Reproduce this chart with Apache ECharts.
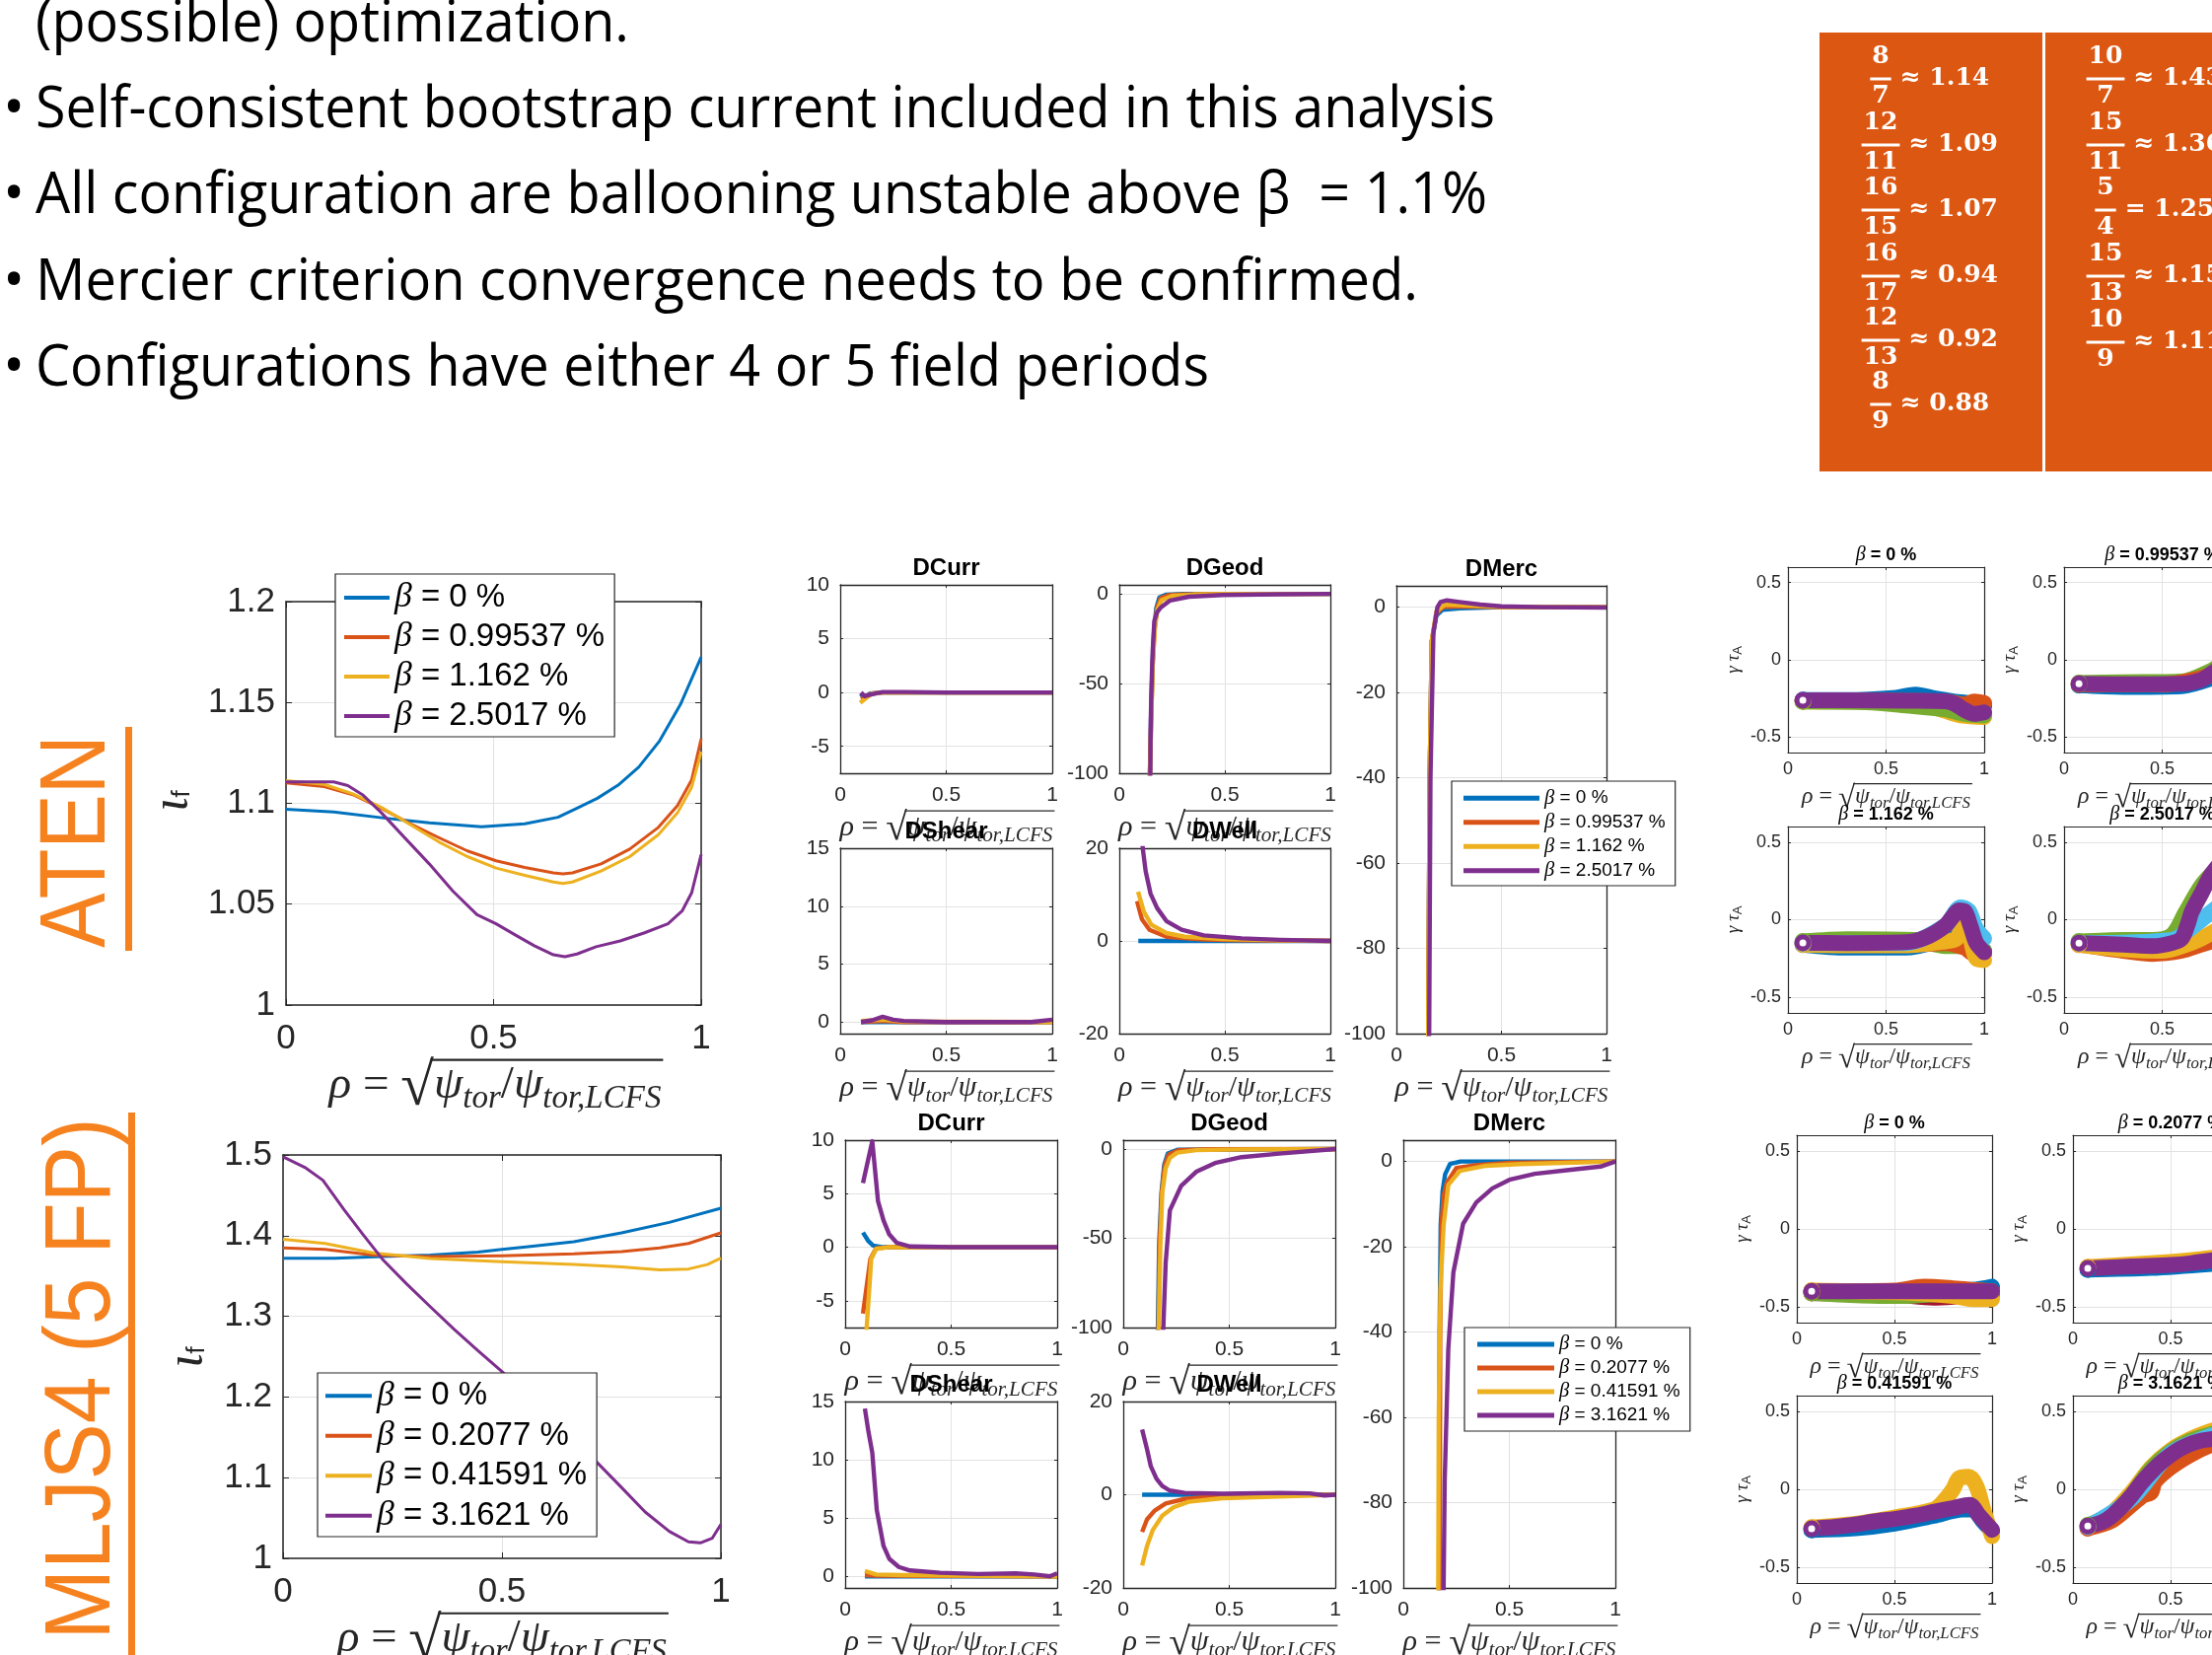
<!DOCTYPE html>
<html>
<head>
<meta charset="utf-8">
<title>ATEN / MLJS4 stability overview</title>
<script src="https://cdn.jsdelivr.net/npm/echarts@6.0.0/dist/echarts.min.js"></script>
<style>
html,body{margin:0;padding:0;background:#ffffff;overflow:hidden;}
#chart{width:2243px;height:1678px;}
</style>
</head>
<body>
<div id="chart"></div>
<script>
// ======================= DATA =======================
const slideLines = [
  '(possible) optimization.',
  'Self-consistent bootstrap current included in this analysis',
  'All configuration are ballooning unstable above β  = 1.1%',
  'Mercier criterion convergence needs to be confirmed.',
  'Configurations have either 4 or 5 field periods'
];
const slideBullet = [false, true, true, true, true];

const fracNumA = ['8', '12', '16', '16', '12', '8'];
const fracDenA = ['7', '11', '15', '17', '13', '9'];
const fracValA = ['≈ 1.14', '≈ 1.09', '≈ 1.07', '≈ 0.94', '≈ 0.92', '≈ 0.88'];
const fracNumB = ['10', '15', '5', '15', '10'];
const fracDenB = ['7', '11', '4', '13', '9'];
const fracValB = ['≈ 1.43', '≈ 1.36', '= 1.25', '≈ 1.15', '≈ 1.11'];

const configNames = ['ATEN', 'MLJS4 (5 FP)'];
const betaAten = ['β = 0 %', 'β = 0.99537 %', 'β = 1.162 %', 'β = 2.5017 %'];
const betaMljs = ['β = 0 %', 'β = 0.2077 %', 'β = 0.41591 %', 'β = 3.1621 %'];
const panelTitles = ['DCurr', 'DGeod', 'DShear', 'DWell', 'DMerc'];

const rhoTicks = [0, 0.5, 1];
const iotaAtenTicks = [1, 1.05, 1.1, 1.15, 1.2];
const iotaMljsTicks = [1, 1.1, 1.2, 1.3, 1.4, 1.5];
const dCurrTicks = [-5, 0, 5, 10];
const dGeodTicks = [-100, -50, 0];
const dShearTicks = [0, 5, 10, 15];
const dWellTicks = [-20, 0, 20];
const dMercTicks = [-100, -80, -60, -40, -20, 0];
const tauTicks = [-0.5, 0, 0.5];

// ---- rotational transform, ATEN ----
const iotaA0 = [[0,1.0971],[0.115,1.0957],[0.241,1.0926],[0.345,1.0903],[0.471,1.0884],[0.575,1.0899],[0.655,1.0931],[0.7,1.0975],[0.75,1.1025],[0.8,1.109],[0.85,1.118],[0.9,1.131],[0.95,1.149],[1,1.1726]];
const iotaA1 = [[0,1.1101],[0.092,1.1083],[0.161,1.1043],[0.230,1.0975],[0.299,1.0899],[0.368,1.0830],[0.437,1.0764],[0.506,1.0715],[0.575,1.0682],[0.644,1.0655],[0.667,1.065],[0.690,1.0655],[0.759,1.070],[0.828,1.0773],[0.897,1.0881],[0.943,1.0989],[0.977,1.1116],[1,1.132]];
const iotaA2 = [[0,1.1112],[0.092,1.1094],[0.161,1.1047],[0.230,1.098],[0.299,1.0895],[0.368,1.0809],[0.437,1.0736],[0.506,1.0679],[0.575,1.0643],[0.644,1.061],[0.667,1.0603],[0.690,1.061],[0.759,1.0664],[0.828,1.0736],[0.897,1.0845],[0.943,1.0953],[0.977,1.1079],[1,1.1256]];
const iotaA3 = [[0,1.1106],[0.057,1.1106],[0.115,1.1106],[0.149,1.1088],[0.184,1.1043],[0.230,1.0953],[0.287,1.0827],[0.345,1.070],[0.402,1.0565],[0.460,1.0448],[0.506,1.0403],[0.552,1.0348],[0.598,1.0294],[0.644,1.0249],[0.672,1.024],[0.701,1.0253],[0.747,1.0289],[0.805,1.0318],[0.862,1.0357],[0.920,1.0403],[0.954,1.0466],[0.977,1.0556],[1,1.0746]];
// ---- rotational transform, MLJS4 ----
const iotaM0 = [[0,1.372],[0.118,1.372],[0.227,1.3742],[0.336,1.376],[0.445,1.3795],[0.5,1.3829],[0.555,1.386],[0.664,1.3925],[0.773,1.4034],[0.882,1.4164],[1,1.4339]];
const iotaM1 = [[0,1.3847],[0.096,1.383],[0.205,1.376],[0.336,1.3742],[0.5,1.3751],[0.664,1.3773],[0.773,1.3803],[0.860,1.3847],[0.926,1.3903],[1,1.4034]];
const iotaM2 = [[0,1.3956],[0.096,1.3903],[0.205,1.3786],[0.336,1.3716],[0.5,1.3677],[0.664,1.3642],[0.773,1.3612],[0.860,1.3577],[0.926,1.3586],[0.969,1.3642],[1,1.372]];
const iotaM3 = [[0,1.4978],[0.052,1.4839],[0.091,1.4687],[0.140,1.4317],[0.183,1.4012],[0.227,1.3708],[0.282,1.3403],[0.336,1.3120],[0.391,1.2838],[0.445,1.2576],[0.5,1.2315],[0.555,1.2032],[0.609,1.1750],[0.664,1.1467],[0.718,1.1184],[0.773,1.0879],[0.827,1.0575],[0.882,1.0335],[0.926,1.0205],[0.953,1.0192],[0.980,1.0248],[1,1.0422]];

// ---- Mercier terms, ATEN ----
const dCurrA0 = [[0.098,-0.1],[0.11,-0.5],[0.14,-0.1],[0.2,0],[1,0]];
const dCurrA1 = [[0.098,-0.6],[0.12,-0.4],[0.15,-0.1],[0.2,0],[1,0]];
const dCurrA2 = [[0.094,-0.95],[0.116,-0.6],[0.15,-0.1],[0.2,0],[1,0]];
const dCurrA3 = [[0.098,0],[0.115,-0.35],[0.14,-0.2],[0.2,0.05],[0.3,0.05],[0.5,0],[1,0]];
const dGeodA0 = [[0.143,-110],[0.150,-70],[0.157,-40],[0.165,-20],[0.175,-8],[0.19,-2],[0.22,-0.5],[0.3,-0.1],[0.5,0],[1,0]];
const dGeodA1 = [[0.143,-110],[0.151,-70],[0.158,-40],[0.167,-20],[0.178,-8],[0.195,-2.5],[0.23,-0.8],[0.3,-0.3],[0.5,0],[1,0]];
const dGeodA2 = [[0.143,-110],[0.151,-70],[0.158,-40],[0.168,-20],[0.18,-9],[0.2,-3.5],[0.25,-1.2],[0.35,-0.4],[0.5,-0.1],[1,0]];
const dGeodA3 = [[0.146,-110],[0.149,-70],[0.153,-50],[0.158,-32],[0.166,-15],[0.18,-10],[0.196,-7.7],[0.241,-3.7],[0.33,-1.6],[0.49,-0.6],[0.76,-0.2],[1,0]];
const dShearA0 = [[0.098,0],[1,0]];
const dShearA1 = [[0.098,0],[0.2,0.1],[0.3,0],[1,0]];
const dShearA2 = [[0.098,0.1],[0.2,0.2],[0.3,0.05],[1,0]];
const dShearA3 = [[0.098,0],[0.15,0.15],[0.2,0.45],[0.25,0.2],[0.3,0.1],[0.5,0],[0.9,0],[1,0.2]];
const dWellA0 = [[0.09,0],[1,0]];
const dWellA1 = [[0.084,8.6],[0.107,4.7],[0.143,2.4],[0.223,0.9],[0.4,0.3],[0.58,0.15],[1,0]];
const dWellA2 = [[0.089,10.6],[0.116,6.3],[0.152,3.5],[0.223,1.7],[0.31,0.9],[0.49,0.4],[0.76,0.15],[1,0]];
const dWellA3 = [[0.105,26],[0.111,20],[0.125,15],[0.148,10.2],[0.179,7.1],[0.223,4.3],[0.295,2.4],[0.4,1.2],[0.58,0.55],[0.76,0.25],[1,0]];
const dMercA0 = [[0.15,-110],[0.158,-40],[0.168,-8],[0.19,-2],[0.22,-0.6],[0.3,-0.3],[0.5,0],[1,0]];
const dMercA1 = [[0.15,-110],[0.158,-40],[0.168,-8],[0.19,-1.5],[0.22,0],[0.3,0.2],[0.5,0],[1,0]];
const dMercA2 = [[0.15,-110],[0.158,-40],[0.168,-8],[0.19,-1],[0.23,0.6],[0.3,0.5],[0.5,0.05],[1,0]];
const dMercA3 = [[0.155,-110],[0.162,-40],[0.176,-6],[0.195,0],[0.21,1.2],[0.24,1.6],[0.3,1.2],[0.4,0.6],[0.5,0.2],[0.7,0],[1,-0.1]];
// ---- Mercier terms, MLJS4 ----
const dCurrM0 = [[0.084,1.38],[0.11,0.56],[0.132,0.16],[0.18,0],[1,0]];
const dCurrM1 = [[0.084,-6.2],[0.101,-3.7],[0.119,-1.1],[0.146,-0.1],[0.2,0],[1,0]];
const dCurrM2 = [[0.098,-8.5],[0.11,-5],[0.123,-1.1],[0.146,-0.15],[0.2,0],[1,0]];
const dCurrM3 = [[0.084,6.0],[0.128,9.9],[0.155,4.3],[0.181,2.5],[0.208,1.2],[0.244,0.4],[0.306,0.07],[0.5,0],[1,0]];
const dGeodM0 = [[0.162,-110],[0.169,-54],[0.18,-24.5],[0.193,-8.8],[0.21,-2.5],[0.255,-0.4],[1,0]];
const dGeodM1 = [[0.165,-110],[0.171,-54],[0.182,-24],[0.196,-9],[0.215,-3],[0.26,-0.6],[0.4,-0.1],[1,0]];
const dGeodM2 = [[0.166,-110],[0.175,-54],[0.184,-24.5],[0.2,-10.8],[0.22,-4.9],[0.255,-2],[0.344,-0.6],[0.558,-0.2],[1,0]];
const dGeodM3 = [[0.183,-120],[0.2,-63.7],[0.22,-34.3],[0.273,-20.6],[0.344,-12.7],[0.433,-7.8],[0.558,-4.5],[0.736,-2.5],[1,0]];
const dShearM0 = [[0.093,0],[1,0]];
const dShearM1 = [[0.093,0.1],[0.15,0.05],[1,0]];
const dShearM2 = [[0.093,0.46],[0.146,0.15],[0.27,0.1],[1,0]];
const dShearM3 = [[0.093,14.4],[0.11,12.4],[0.128,10.6],[0.149,5.7],[0.181,2.6],[0.208,1.5],[0.253,0.8],[0.306,0.5],[0.448,0.3],[0.626,0.2],[0.804,0.25],[0.893,0.15],[0.964,0],[1,0.25]];
const dWellM0 = [[0.089,0],[1,0]];
const dWellM1 = [[0.089,-8],[0.112,-5.3],[0.148,-3.4],[0.2,-1.9],[0.29,-0.9],[0.469,-0.25],[1,0]];
const dWellM2 = [[0.089,-15.2],[0.112,-11],[0.139,-7.6],[0.184,-4.5],[0.237,-2.7],[0.308,-1.5],[0.469,-0.75],[0.736,-0.4],[1,0]];
const dWellM3 = [[0.089,14],[0.112,9.8],[0.13,6.1],[0.157,3.4],[0.184,1.9],[0.219,0.9],[0.29,0.4],[0.469,0.2],[0.736,0.4],[0.879,0.3],[0.95,-0.15],[1,0]];
const dMercM0 = [[0.168,-110],[0.171,-40],[0.176,-15],[0.185,-7],[0.197,-3],[0.22,-0.6],[0.27,0],[1,0]];
const dMercM1 = [[0.171,-110],[0.174,-40],[0.18,-15],[0.19,-8],[0.205,-5],[0.25,-1.5],[0.35,-0.8],[0.5,-0.3],[1,0]];
const dMercM2 = [[0.164,-110],[0.167,-60],[0.175,-30],[0.19,-15],[0.212,-5.5],[0.267,-2.2],[0.39,-1],[0.55,-0.6],[1,0]];
const dMercM3 = [[0.188,-110],[0.195,-75],[0.212,-44],[0.236,-26],[0.282,-14.6],[0.344,-9.6],[0.42,-6.3],[0.5,-4.3],[0.62,-2.9],[0.78,-2],[0.93,-1.2],[1,0]];

// ---- growth rates gamma*tau_A (mode bands) ----
const tauA1blue   = [[0.076,-0.26],[0.3,-0.26],[0.55,-0.245],[0.65,-0.225],[0.75,-0.25],[0.85,-0.27],[0.92,-0.28],[1,-0.3]];
const tauA1orange = [[0.076,-0.265],[0.5,-0.265],[0.8,-0.27],[0.9,-0.29],[0.95,-0.27],[1,-0.28]];
const tauA1yellow = [[0.076,-0.27],[0.5,-0.27],[0.7,-0.29],[0.8,-0.33],[0.88,-0.36],[1,-0.37]];
const tauA1green  = [[0.076,-0.27],[0.4,-0.275],[0.6,-0.295],[0.8,-0.32],[0.9,-0.35],[1,-0.36]];
const tauA1purple = [[0.076,-0.262],[0.3,-0.262],[0.6,-0.265],[0.8,-0.268],[0.85,-0.285],[0.9,-0.325],[0.95,-0.35],[1,-0.34]];
const tauA2blue   = [[0.076,-0.165],[0.3,-0.175],[0.6,-0.17],[0.75,-0.12],[0.8,-0.08]];
const tauA2green  = [[0.076,-0.15],[0.3,-0.145],[0.6,-0.14],[0.75,-0.07],[0.8,-0.03]];
const tauA2orange = [[0.076,-0.16],[0.5,-0.16],[0.75,-0.1],[0.8,-0.06]];
const tauA2purple = [[0.076,-0.155],[0.3,-0.158],[0.6,-0.155],[0.7,-0.13],[0.75,-0.09],[0.8,-0.05]];
const tauA3blue   = [[0.076,-0.16],[0.3,-0.18],[0.6,-0.18],[0.75,-0.14],[0.85,-0.08],[0.9,-0.05],[0.95,-0.15],[1,-0.2]];
const tauA3green  = [[0.076,-0.14],[0.3,-0.125],[0.65,-0.13],[0.8,-0.17],[0.87,-0.17],[0.93,-0.12],[1,-0.2]];
const tauA3orange = [[0.076,-0.15],[0.6,-0.16],[0.8,-0.15],[0.9,-0.18],[0.95,-0.22],[1,-0.22]];
const tauA3yellow = [[0.076,-0.16],[0.3,-0.165],[0.6,-0.165],[0.8,-0.14],[0.86,-0.12],[0.9,-0.02],[0.93,-0.12],[0.96,-0.25],[1,-0.26]];
const tauA3lblue  = [[0.076,-0.15],[0.6,-0.15],[0.8,-0.04],[0.88,0.08],[0.92,0.06],[0.96,-0.06],[1,-0.12]];
const tauA3purple = [[0.076,-0.149],[0.3,-0.15],[0.6,-0.145],[0.7,-0.115],[0.8,-0.04],[0.84,0.02],[0.87,0.06],[0.9,0.055],[0.93,-0.04],[0.96,-0.15],[1,-0.21]];
const tauA4orange = [[0.076,-0.16],[0.3,-0.2],[0.45,-0.22],[0.6,-0.2],[0.7,-0.16],[0.8,-0.12]];
const tauA4yellow = [[0.076,-0.16],[0.3,-0.19],[0.5,-0.2],[0.6,-0.17],[0.7,-0.12],[0.8,-0.05]];
const tauA4green  = [[0.076,-0.14],[0.3,-0.13],[0.45,-0.13],[0.55,-0.1],[0.62,0.05],[0.7,0.22],[0.78,0.33]];
const tauA4lblue  = [[0.076,-0.15],[0.55,-0.13],[0.65,-0.05],[0.75,0.05],[0.8,0.1]];
const tauA4purple = [[0.076,-0.15],[0.3,-0.16],[0.45,-0.17],[0.55,-0.15],[0.6,-0.12],[0.63,-0.03],[0.65,0.05],[0.7,0.17],[0.75,0.29],[0.8,0.37]];
const tauM1blue   = [[0.076,-0.4],[0.6,-0.4],[0.9,-0.39],[1,-0.37]];
const tauM1orange = [[0.076,-0.4],[0.5,-0.395],[0.65,-0.37],[0.8,-0.38],[1,-0.4]];
const tauM1dred   = [[0.076,-0.41],[0.5,-0.42],[0.7,-0.44],[0.85,-0.43],[1,-0.42]];
const tauM1green  = [[0.076,-0.41],[0.5,-0.43],[0.7,-0.42],[1,-0.41]];
const tauM1yellow = [[0.076,-0.395],[0.6,-0.41],[0.8,-0.43],[0.9,-0.45],[1,-0.45]];
const tauM1purple = [[0.076,-0.4],[0.5,-0.4],[0.8,-0.4],[1,-0.4]];
const tauM2blue   = [[0.076,-0.26],[0.4,-0.25],[0.75,-0.22]];
const tauM2yellow = [[0.076,-0.245],[0.4,-0.22],[0.6,-0.2],[0.75,-0.18]];
const tauM2purple = [[0.076,-0.253],[0.3,-0.24],[0.5,-0.23],[0.6,-0.22],[0.75,-0.195]];
const tauM3blue   = [[0.076,-0.26],[0.3,-0.25],[0.5,-0.22],[0.7,-0.17],[0.85,-0.13],[0.9,-0.13],[0.95,-0.2],[1,-0.27]];
const tauM3yellow = [[0.076,-0.245],[0.3,-0.22],[0.5,-0.18],[0.7,-0.13],[0.75,-0.08],[0.8,0.0],[0.83,0.07],[0.88,0.08],[0.92,0.02],[0.96,-0.15],[1,-0.3]];
const tauM3purple = [[0.076,-0.252],[0.2,-0.24],[0.3,-0.225],[0.4,-0.205],[0.5,-0.19],[0.6,-0.17],[0.7,-0.145],[0.8,-0.12],[0.885,-0.1],[0.935,-0.17],[1,-0.26]];
const tauM4orange = [[0.076,-0.25],[0.2,-0.2],[0.3,-0.1],[0.36,-0.04],[0.4,-0.02],[0.42,0.05],[0.5,0.14],[0.6,0.22],[0.7,0.28],[0.76,0.3]];
const tauM4yellow = [[0.076,-0.24],[0.2,-0.15],[0.3,-0.02],[0.4,0.14],[0.5,0.25],[0.6,0.32],[0.7,0.37],[0.76,0.39]];
const tauM4green  = [[0.076,-0.23],[0.2,-0.16],[0.3,-0.04],[0.4,0.13],[0.5,0.24],[0.6,0.31],[0.7,0.35],[0.76,0.37]];
const tauM4lblue  = [[0.076,-0.24],[0.3,-0.06],[0.5,0.23],[0.7,0.34],[0.76,0.36]];
const tauM4purple = [[0.076,-0.236],[0.15,-0.21],[0.2,-0.17],[0.25,-0.11],[0.3,-0.04],[0.35,0.04],[0.4,0.11],[0.45,0.17],[0.5,0.22],[0.55,0.26],[0.6,0.29],[0.65,0.31],[0.7,0.32],[0.76,0.33]];

// ======================= STYLE / LAYOUT =======================
const SANS = '"Liberation Sans", Arimo, Helvetica, Arial, sans-serif';
const MATH = '"Liberation Serif", "DejaVu Serif", serif';
const SLIDE = '"Open Sans", "DejaVu Sans", sans-serif';
const AXC = '#262626';
const C4 = ['#0072BD', '#D95319', '#EDB120', '#7E2F8E'];
const TC = {blue:'#0072BD', orange:'#D95319', yellow:'#EDB120', purple:'#7E2F8E', green:'#77AC30', lblue:'#4DBEEE', dred:'#A2142F'};
const ORANGE_TXT = '#F5821F';
const BOX_ORANGE = '#DC5711';

const mctx = document.createElement('canvas').getContext('2d');
function tw(t, font) { mctx.font = font; return mctx.measureText(t).width; }
function fmt(v) { return String(Math.round(v * 1000) / 1000); }

const grids = [], xAxes = [], yAxes = [], series = [], graphics = [], legends = [];

function addPanel(rect, ax) {
  const gi = grids.length;
  grids.push({left: rect[0], top: rect[1], width: rect[2], height: rect[3], containLabel: false, outerBoundsMode: 'none', show: false});
  const line = {show: true, onZero: false, lineStyle: {color: AXC, width: ax.lw}};
  const tick = vals => ({show: true, inside: true, length: ax.tick, customValues: vals, lineStyle: {color: AXC, width: 1}});
  const lbl = (vals, m) => ({show: true, customValues: vals, fontSize: ax.fs, color: AXC, margin: m, fontFamily: SANS, formatter: fmt});
  const split = {show: true, lineStyle: {color: '#e2e2e2', width: 1}};
  xAxes.push({type: 'value', gridIndex: gi, min: ax.xmin, max: ax.xmax, position: 'bottom', axisLine: line, axisTick: tick(ax.xticks), axisLabel: lbl(ax.xticks, ax.xm), splitLine: split});
  xAxes.push({type: 'value', gridIndex: gi, min: ax.xmin, max: ax.xmax, position: 'top', axisLine: line, axisTick: tick(ax.xticks), axisLabel: {show: false}, splitLine: {show: false}});
  yAxes.push({type: 'value', gridIndex: gi, min: ax.ymin, max: ax.ymax, position: 'left', axisLine: line, axisTick: tick(ax.yticks), axisLabel: lbl(ax.yticks, ax.ym), splitLine: split});
  yAxes.push({type: 'value', gridIndex: gi, min: ax.ymin, max: ax.ymax, position: 'right', axisLine: line, axisTick: tick(ax.yticks), axisLabel: {show: false}, splitLine: {show: false}});
  return gi;
}
function addLines(gi, arrs, names, width) {
  arrs.forEach((d, i) => series.push({
    type: 'line', name: names[i], xAxisIndex: 2 * gi, yAxisIndex: 2 * gi, data: d,
    showSymbol: false, symbol: 'none', lineStyle: {color: C4[i], width: width, join: 'round'},
    itemStyle: {color: C4[i]}, silent: true, animation: false, clip: true, z: 2
  }));
}
function addTau(gi, modes) {
  modes.forEach(([key, d]) => {
    const c = TC[key];
    series.push({
      type: 'line', name: 'mode-' + key, xAxisIndex: 2 * gi, yAxisIndex: 2 * gi,
      data: d.map((p, i) => i === 0 ? {value: p, symbol: 'circle', symbolSize: 12, itemStyle: {color: '#ffffff', borderColor: c, borderWidth: 5}} : {value: p}),
      symbol: 'none', showSymbol: true, smooth: 0.3,
      lineStyle: {color: c, width: 16, cap: 'round', join: 'round'}, itemStyle: {color: c},
      silent: true, animation: false, clip: false, z: 2
    });
  });
}
function txt(x, y, text, font, extra) {
  return {type: 'text', x: x, y: y, z: 10, silent: true, style: Object.assign({text: text, font: font, fill: '#000', align: 'center', verticalAlign: 'middle'}, extra || {})};
}
function rhoLabel(cx, cy, targetW) {
  const parts = [
    {t: 'ρ', it: 1, s: 1, dy: 0},
    {t: ' = ', it: 0, s: 1, dy: 0},
    {t: '√', it: 0, s: 1.3, dy: 0.06},
    {t: 'ψ', it: 1, s: 1, dy: 0},
    {t: 'tor', it: 1, s: 0.7, dy: 0.28},
    {t: '/', it: 0, s: 1, dy: 0},
    {t: 'ψ', it: 1, s: 1, dy: 0},
    {t: 'tor,LCFS', it: 1, s: 0.7, dy: 0.28}
  ];
  const f = (p, F) => (p.it ? 'italic ' : '') + (p.s * F).toFixed(2) + 'px ' + MATH;
  const w100 = parts.reduce((a, p) => a + tw(p.t, f(p, 100)), 0);
  const F = 100 * targetW / w100;
  let x = cx - targetW / 2, vx0 = 0;
  parts.forEach((p, i) => {
    const w = tw(p.t, f(p, F));
    graphics.push({type: 'text', x: x, y: cy + p.dy * F, z: 10, silent: true,
      style: {text: p.t, font: f(p, F), fill: AXC, align: 'left', verticalAlign: 'middle'}});
    if (i === 2) vx0 = x + w * 0.9;
    x += w;
  });
  const vy = cy - 0.56 * F;
  graphics.push({type: 'line', z: 10, silent: true, shape: {x1: vx0, y1: vy, x2: x + 2, y2: vy}, style: {stroke: AXC, lineWidth: Math.max(1, F * 0.045)}});
}
function legendFor(names, left, top, o) {
  legends.push({
    orient: 'vertical', left: left, top: top, data: names, icon: 'rect',
    itemWidth: o.iw, itemHeight: o.ih, itemGap: 0, padding: o.pad,
    backgroundColor: '#ffffff', borderColor: AXC, borderWidth: 1.2, borderRadius: 0,
    selectedMode: false, z: 20,
    formatter: n => n.replace('β', '{b|β}'),
    textStyle: {fontFamily: SANS, fontSize: o.fs, color: '#000', lineHeight: o.lh,
      rich: {b: {fontFamily: MATH, fontStyle: 'italic', fontSize: o.fs * 1.08, lineHeight: o.lh}}}
  });
}

// ---------- slide text ----------
const lineBase = [43, 130, 217, 305, 392];
const lineWidth = [602, 1480, 1472, 1402, 1190];
const SF = 59;
slideLines.forEach((t, i) => {
  const w = tw(t, SF + 'px ' + SLIDE);
  graphics.push({type: 'text', x: 36, y: lineBase[i] - 0.3 * SF, scaleX: lineWidth[i] / w, z: 10, silent: true,
    style: {text: t, font: SF + 'px ' + SLIDE, fill: '#000', align: 'left', verticalAlign: 'middle'}});
  if (slideBullet[i]) graphics.push(txt(14, lineBase[i] - 0.3 * SF, '•', SF + 'px ' + SLIDE));
});

// ---------- orange fraction boxes ----------
graphics.push({type: 'rect', z: 5, silent: true, shape: {x: 1845, y: 33, width: 226, height: 445}, style: {fill: BOX_ORANGE}});
graphics.push({type: 'rect', z: 5, silent: true, shape: {x: 2074, y: 33, width: 200, height: 445}, style: {fill: BOX_ORANGE}});
const FF = 'bold 25px "DejaVu Serif", "Liberation Serif", serif';
function fracColumn(cx, bars, nums, dens, vals) {
  bars.forEach((by, i) => {
    const bw = Math.max(tw(nums[i], FF), tw(dens[i], FF)) + 4;
    graphics.push({type: 'rect', z: 11, silent: true, shape: {x: cx - bw / 2, y: by - 1.5, width: bw, height: 3}, style: {fill: '#fff'}});
    graphics.push(txt(cx, by - 23, nums[i], FF, {fill: '#fff'}));
    graphics.push(txt(cx, by + 17, dens[i], FF, {fill: '#fff'}));
    graphics.push(txt(cx + bw / 2 + 9, by - 1, vals[i], FF, {fill: '#fff', align: 'left'}));
  });
}
fracColumn(1907, [80, 147, 213, 280, 345, 410], fracNumA, fracDenA, fracValA);
fracColumn(2135, [80, 147, 213, 280, 347], fracNumB, fracDenB, fracValB);

// ---------- configuration labels ----------
function vertLabel(cx, cy, text, fs, len) {
  const font = fs + 'px ' + SANS;
  const w = tw(text, font);
  graphics.push({type: 'text', x: cx, y: cy, rotation: Math.PI / 2, scaleX: len / w, z: 10, silent: true,
    style: {text: text, font: font, fill: ORANGE_TXT, align: 'center', verticalAlign: 'middle'}});
}
vertLabel(80, 853, configNames[0], 95, 216);
graphics.push({type: 'rect', z: 10, silent: true, shape: {x: 127, y: 737, width: 7, height: 227}, style: {fill: ORANGE_TXT}});
vertLabel(85, 1398, configNames[1], 95, 529);
graphics.push({type: 'rect', z: 10, silent: true, shape: {x: 130, y: 1128, width: 7, height: 550}, style: {fill: ORANGE_TXT}});

// ---------- iota panels ----------
const AX_IOTA = {fs: 35, tick: 6, lw: 1.5, xm: 17, ym: 11};
const AX_D = {fs: 21, tick: 3, lw: 1.3, xm: 12, ym: 11};
const AX_T = {fs: 18, tick: 3, lw: 1.2, xm: 8, ym: 7};
const R = (o, b) => Object.assign({}, b, o);

const gIA = addPanel([290, 610, 421, 409], R({xmin: 0, xmax: 1, xticks: rhoTicks, ymin: 1, ymax: 1.2, yticks: iotaAtenTicks}, AX_IOTA));
addLines(gIA, [iotaA0, iotaA1, iotaA2, iotaA3], betaAten, 3);
const gIM = addPanel([287, 1171, 444, 409], R({xmin: 0, xmax: 1, xticks: rhoTicks, ymin: 1, ymax: 1.5, yticks: iotaMljsTicks}, AX_IOTA));
addLines(gIM, [iotaM0, iotaM1, iotaM2, iotaM3], betaMljs, 3);
legendFor(betaAten, 340, 582, {iw: 46, ih: 4, pad: [4, 10, 1, 9], fs: 33, lh: 40});
legendFor(betaMljs, 322, 1392, {iw: 47, ih: 4, pad: [3, 10, 1, 8], fs: 33, lh: 40.5});
rhoLabel(502, 1101, 337);
rhoLabel(509, 1662, 334);
const iotaName = {text: '{i|ι}{s|f}', rich: {i: {font: 'italic 52px ' + MATH, fill: AXC}, s: {font: '26px ' + SANS, fill: AXC, padding: [20, 0, 0, 0]}}, fill: AXC, align: 'center', verticalAlign: 'middle'};
graphics.push({type: 'text', x: 175, y: 812, rotation: Math.PI / 2, z: 10, silent: true, style: iotaName});
graphics.push({type: 'text', x: 190, y: 1376, rotation: Math.PI / 2, z: 10, silent: true, style: Object.assign({}, iotaName)});

// ---------- Mercier panels ----------
const dRects = {
  A: {curr: [852, 593, 215, 191], geod: [1135, 593, 214, 191], shear: [852, 860, 215, 188], well: [1135, 860, 214, 188], merc: [1416, 594, 213, 454]},
  M: {curr: [857, 1156, 215, 190], geod: [1139, 1156, 215, 190], shear: [857, 1421, 215, 189], well: [1139, 1421, 215, 189], merc: [1423, 1156, 215, 454]}
};
const dAxes = {curr: [-7.5, 10, dCurrTicks], geod: [-100, 5, dGeodTicks], shear: [-1, 15, dShearTicks], well: [-20, 20, dWellTicks], merc: [-100, 5, dMercTicks]};
const dData = {
  A: {curr: [dCurrA0, dCurrA1, dCurrA2, dCurrA3], geod: [dGeodA0, dGeodA1, dGeodA2, dGeodA3], shear: [dShearA0, dShearA1, dShearA2, dShearA3], well: [dWellA0, dWellA1, dWellA2, dWellA3], merc: [dMercA0, dMercA1, dMercA2, dMercA3]},
  M: {curr: [dCurrM0, dCurrM1, dCurrM2, dCurrM3], geod: [dGeodM0, dGeodM1, dGeodM2, dGeodM3], shear: [dShearM0, dShearM1, dShearM2, dShearM3], well: [dWellM0, dWellM1, dWellM2, dWellM3], merc: [dMercM0, dMercM1, dMercM2, dMercM3]}
};
const dKeys = ['curr', 'geod', 'shear', 'well', 'merc'];
['A', 'M'].forEach(cfg => {
  const names = cfg === 'A' ? betaAten : betaMljs;
  dKeys.forEach((k, ki) => {
    const r = dRects[cfg][k], a = dAxes[k];
    const gi = addPanel(r, R({xmin: 0, xmax: 1, xticks: rhoTicks, ymin: a[0], ymax: a[1], yticks: a[2]}, AX_D));
    addLines(gi, dData[cfg][k], names, 4.4);
    rhoLabel(r[0] + r[2] / 2, r[1] + r[3] + 55, 216);
  });
});
['A', 'M'].forEach(cfg => {
  dKeys.forEach((k, ki) => {
    const r = dRects[cfg][k];
    graphics.push(Object.assign(txt(r[0] + r[2] / 2, r[1] - 17, panelTitles[ki], 'bold 24px ' + SANS), {z: 12}));
  });
});
legendFor(betaAten, 1472, 792, {iw: 77, ih: 5, pad: [5, 10, 3, 12], fs: 19, lh: 24.5});
legendFor(betaMljs, 1485, 1346, {iw: 78, ih: 5, pad: [5, 10, 4, 13], fs: 19, lh: 24});

// ---------- growth-rate panels ----------
const tRects = {
  A: [[1813, 575, 199, 188], [2093, 575, 199, 188], [1813, 838, 199, 189], [2093, 838, 199, 189]],
  M: [[1822, 1151, 198, 190], [2102, 1151, 198, 190], [1822, 1415, 198, 190], [2102, 1415, 198, 190]]
};
const tModes = {
  A: [
    [['blue', tauA1blue], ['orange', tauA1orange], ['yellow', tauA1yellow], ['green', tauA1green], ['purple', tauA1purple]],
    [['blue', tauA2blue], ['green', tauA2green], ['orange', tauA2orange], ['purple', tauA2purple]],
    [['blue', tauA3blue], ['green', tauA3green], ['orange', tauA3orange], ['yellow', tauA3yellow], ['lblue', tauA3lblue], ['purple', tauA3purple]],
    [['orange', tauA4orange], ['yellow', tauA4yellow], ['green', tauA4green], ['lblue', tauA4lblue], ['purple', tauA4purple]]
  ],
  M: [
    [['blue', tauM1blue], ['orange', tauM1orange], ['dred', tauM1dred], ['green', tauM1green], ['yellow', tauM1yellow], ['purple', tauM1purple]],
    [['blue', tauM2blue], ['yellow', tauM2yellow], ['purple', tauM2purple]],
    [['blue', tauM3blue], ['yellow', tauM3yellow], ['purple', tauM3purple]],
    [['orange', tauM4orange], ['yellow', tauM4yellow], ['green', tauM4green], ['lblue', tauM4lblue], ['purple', tauM4purple]]
  ]
};
['A', 'M'].forEach(cfg => {
  const names = cfg === 'A' ? betaAten : betaMljs;
  tRects[cfg].forEach((r, i) => {
    const gi = addPanel(r, R({xmin: 0, xmax: 1, xticks: rhoTicks, ymin: -0.6, ymax: 0.6, yticks: tauTicks}, AX_T));
    addTau(gi, tModes[cfg][i]);
    rhoLabel(r[0] + r[2] / 2, r[1] + r[3] + 45, 171);
    graphics.push(Object.assign(txt(r[0] + r[2] / 2, r[1] - 12, names[i].replace('β', '{b|β}'), 'bold 18px ' + SANS,
      {rich: {b: {font: 'italic 20px ' + MATH, fill: '#000'}}}), {z: 12}));
    graphics.push({type: 'text', x: r[0] - 55, y: r[1] + r[3] / 2, rotation: Math.PI / 2, z: 10, silent: true,
      style: {text: '{g|γ τ}{s|A}', rich: {g: {font: 'italic 19px ' + MATH, fill: AXC}, s: {font: '13px ' + SANS, fill: AXC, padding: [9, 0, 0, 0]}}, fill: AXC, align: 'center', verticalAlign: 'middle'}});
  });
});

// ======================= RENDER =======================
const chart = echarts.init(document.getElementById('chart'), null, {renderer: 'canvas', width: 2243, height: 1678});
chart.setOption({
  animation: false,
  backgroundColor: '#ffffff',
  textStyle: {fontFamily: SANS},
  grid: grids, xAxis: xAxes, yAxis: yAxes, series: series, legend: legends,
  graphic: {elements: graphics}
});
</script>
</body>
</html>
